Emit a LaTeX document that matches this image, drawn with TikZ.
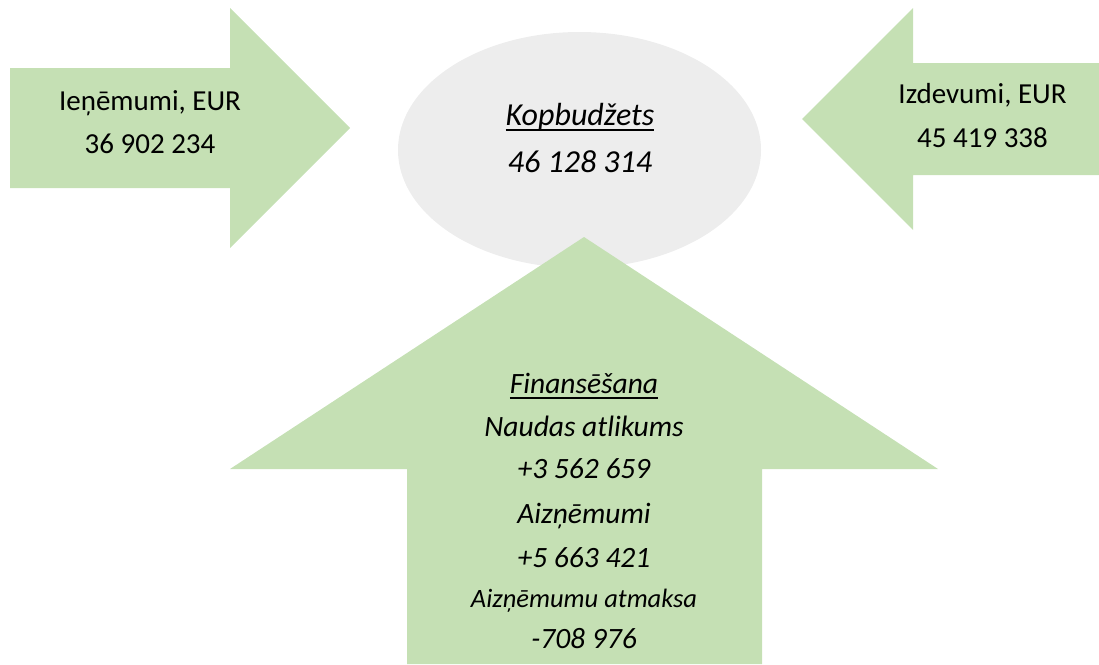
\documentclass[tikz,border=0pt]{standalone}
\usepackage{fontspec}
\setmainfont{Carlito}
\definecolor{arrowgreen}{HTML}{C5E0B4}
\definecolor{ellgray}{HTML}{EDEDED}
\newcommand\myul[1]{\setbox0=\hbox{#1}\rlap{\rule[-5.5pt]{\wd0}{1.8pt}}\box0}
\begin{document}
\begin{tikzpicture}[x=1pt,y=-1pt,
  lbl/.style={anchor=base, inner sep=0pt, font=\fontsize{29}{34}\selectfont},
  elbl/.style={lbl, font=\fontsize{32}{36}\selectfont\itshape},
  ilbl/.style={lbl, font=\fontsize{29.5}{34}\selectfont\itshape},
  slbl/.style={lbl, font=\fontsize{26.5}{30}\selectfont\itshape}]
\useasboundingbox (0,0) rectangle (1099,664);
% shapes
\fill[ellgray] (579.5,150) ellipse [x radius=181.5, y radius=118];
\fill[arrowgreen] (10,68) -- (230,68) -- (230,8) -- (350,128) -- (230,248) -- (230,188) -- (10,188) -- cycle;
\fill[arrowgreen] (1099,63) -- (913,63) -- (913,8) -- (802,119) -- (913,230) -- (913,175) -- (1099,175) -- cycle;
\fill[arrowgreen] (584,237) -- (938,469) -- (762,469) -- (762,664) -- (407,664) -- (407,469) -- (230,469) -- cycle;
% left arrow text
\node[lbl] (in1) at (150,110) {Ieņēmumi, EUR};
\node[lbl] (in2) at (150,153) {36 902 234};
% right arrow text
\node[lbl] (out1) at (982.5,103) {Izdevumi, EUR};
\node[lbl] (out2) at (982.5,147) {45 419 338};
% ellipse text
\node[elbl] (kb1) at (580,125) {\myul{Kopbudžets}};
\node[elbl] (kb2) at (580,172) {46 128 314};
% bottom arrow text
\node[ilbl] (f1) at (584,393) {\myul{Finansēšana}};
\node[ilbl] (f2) at (584,436) {Naudas atlikums};
\node[ilbl] (f3) at (584,478) {+3 562 659};
\node[ilbl] (f4) at (584,523) {Aizņēmumi};
\node[ilbl] (f5) at (584,567) {+5 663 421};
\node[slbl] (f6) at (584,607) {Aizņēmumu atmaksa};
\node[ilbl] (f7) at (584,648) {-708 976};
\end{tikzpicture}
\end{document}
